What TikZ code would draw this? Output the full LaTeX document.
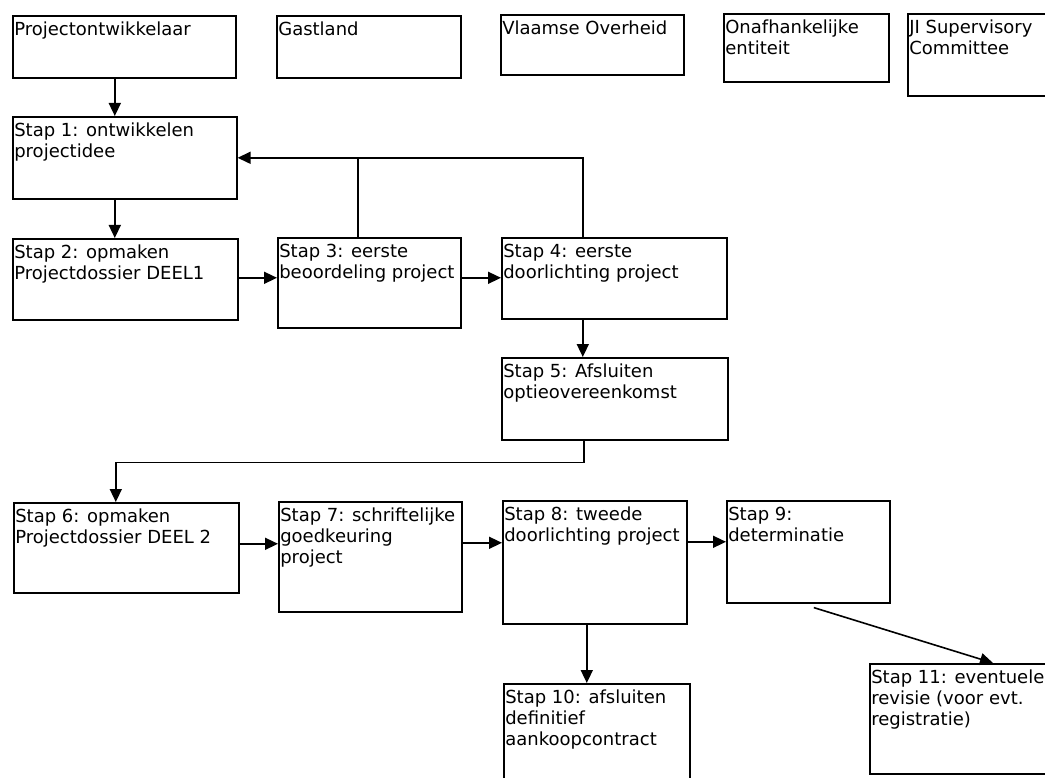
\documentclass[tikz,border=0pt]{standalone}
\usepackage{fontspec}
\setmainfont{DejaVu Sans}
\usetikzlibrary{arrows.meta,calc}
\tikzset{
  box/.style={draw=black, line width=1.6pt, inner sep=0pt, anchor=north west},
  arr/.style={line width=1.6pt, -{Triangle[length=13pt,width=12pt]}},
  ln/.style={line width=1.6pt},
}
\newcommand\stapbox[6]{%
  \node[box] (#1) at (#2pt,-#3pt) {\parbox[c][#5pt][t]{#4pt}{\fontsize{18}{21}\selectfont\raggedright\leftskip=1.5pt\relax\vspace*{5pt}\strut #6}};}
\begin{document}
\begin{tikzpicture}[x=1pt,y=1pt]
\useasboundingbox (0,0) rectangle (1045,-778);
\clip (0,0) rectangle (1045,-778);
\fill[white] (0,0) rectangle (1045,-778);
% actors
\stapbox{P0}{12}{15}{223}{62}{Projectontwikkelaar}
\stapbox{GL}{276}{15}{184}{62}{Gastland}
\stapbox{VO}{500}{14}{183}{60}{Vlaamse Overheid}
\stapbox{OE}{723}{13}{165}{68}{Onafhankelijke\\entiteit}
\stapbox{JI}{907}{13}{160}{82}{JI Supervisory\\Committee}
% steps
\stapbox{S1}{12}{116}{224}{82}{Stap 1: ontwikkelen\\projectidee}
\stapbox{S2}{12}{238}{225}{81}{Stap 2: opmaken\\Projectdossier DEEL1}
\stapbox{S3}{277}{237}{183}{90}{Stap 3: eerste\\beoordeling project}
\stapbox{S4}{501}{237}{225}{81}{Stap 4: eerste\\doorlichting project}
\stapbox{S5}{501}{357}{226}{82}{Stap 5: Afsluiten\\optieovereenkomst}
\stapbox{S6}{13}{502}{225}{90}{Stap 6: opmaken\\Projectdossier DEEL 2}
\stapbox{S7}{278}{501}{183}{110}{Stap 7: schriftelijke\\goedkeuring\\project}
\stapbox{S8}{502}{500}{184}{123}{Stap 8: tweede\\doorlichting project}
\stapbox{S9}{726}{500}{163}{102}{Stap 9:\\determinatie}
\stapbox{S10}{503}{683}{186}{105}{Stap 10: afsluiten\\definitief\\aankoopcontract}
\stapbox{S11}{869}{663}{190}{110}{Stap 11: eventuele\\revisie (voor evt.\\registratie)}
% connectors
\draw[arr] ([xshift=-9.5pt]P0.south) -- ([xshift=-9.5pt]P0.south |- S1.north);
\draw[arr] ([xshift=-10pt]S1.south) -- ([xshift=-10pt]S1.south |- S2.north);
\draw[arr] ([yshift=1.5pt]S2.east) -- ([yshift=1.5pt]S2.east -| S3.west);
\draw[arr] ([yshift=1.5pt]S2.east -| S3.east) -- ([yshift=1.5pt]S2.east -| S4.west);
\draw[arr] ([xshift=-31.5pt]S4.north) |- (S1.east);
\draw[ln] ([xshift=-11.5pt]S3.north) -- ([xshift=-11.5pt]S3.north |- S1.east);
\draw[arr] ([xshift=-31.5pt]S4.south) -- ([xshift=-31.5pt]S4.south |- S5.north);
\draw[arr] ([xshift=-31pt]S5.south) -- ++(0,-22) -| ([xshift=-10.5pt]S6.north);
\draw[arr] ([yshift=4pt]S6.east) -- ([yshift=4pt]S6.east -| S7.west);
\draw[arr] ([yshift=14pt]S7.east) -- ([yshift=14pt]S7.east -| S8.west);
\draw[arr] ([yshift=20.5pt]S8.east) -- ([yshift=20.5pt]S8.east -| S9.west);
\draw[arr] ([xshift=-8pt]S8.south) -- ([xshift=-8pt]S8.south |- S10.north);
\draw[arr] ([xshift=5.5pt,yshift=-4pt]S9.south) -- ([xshift=124pt]S11.north west);
\end{tikzpicture}
\end{document}
